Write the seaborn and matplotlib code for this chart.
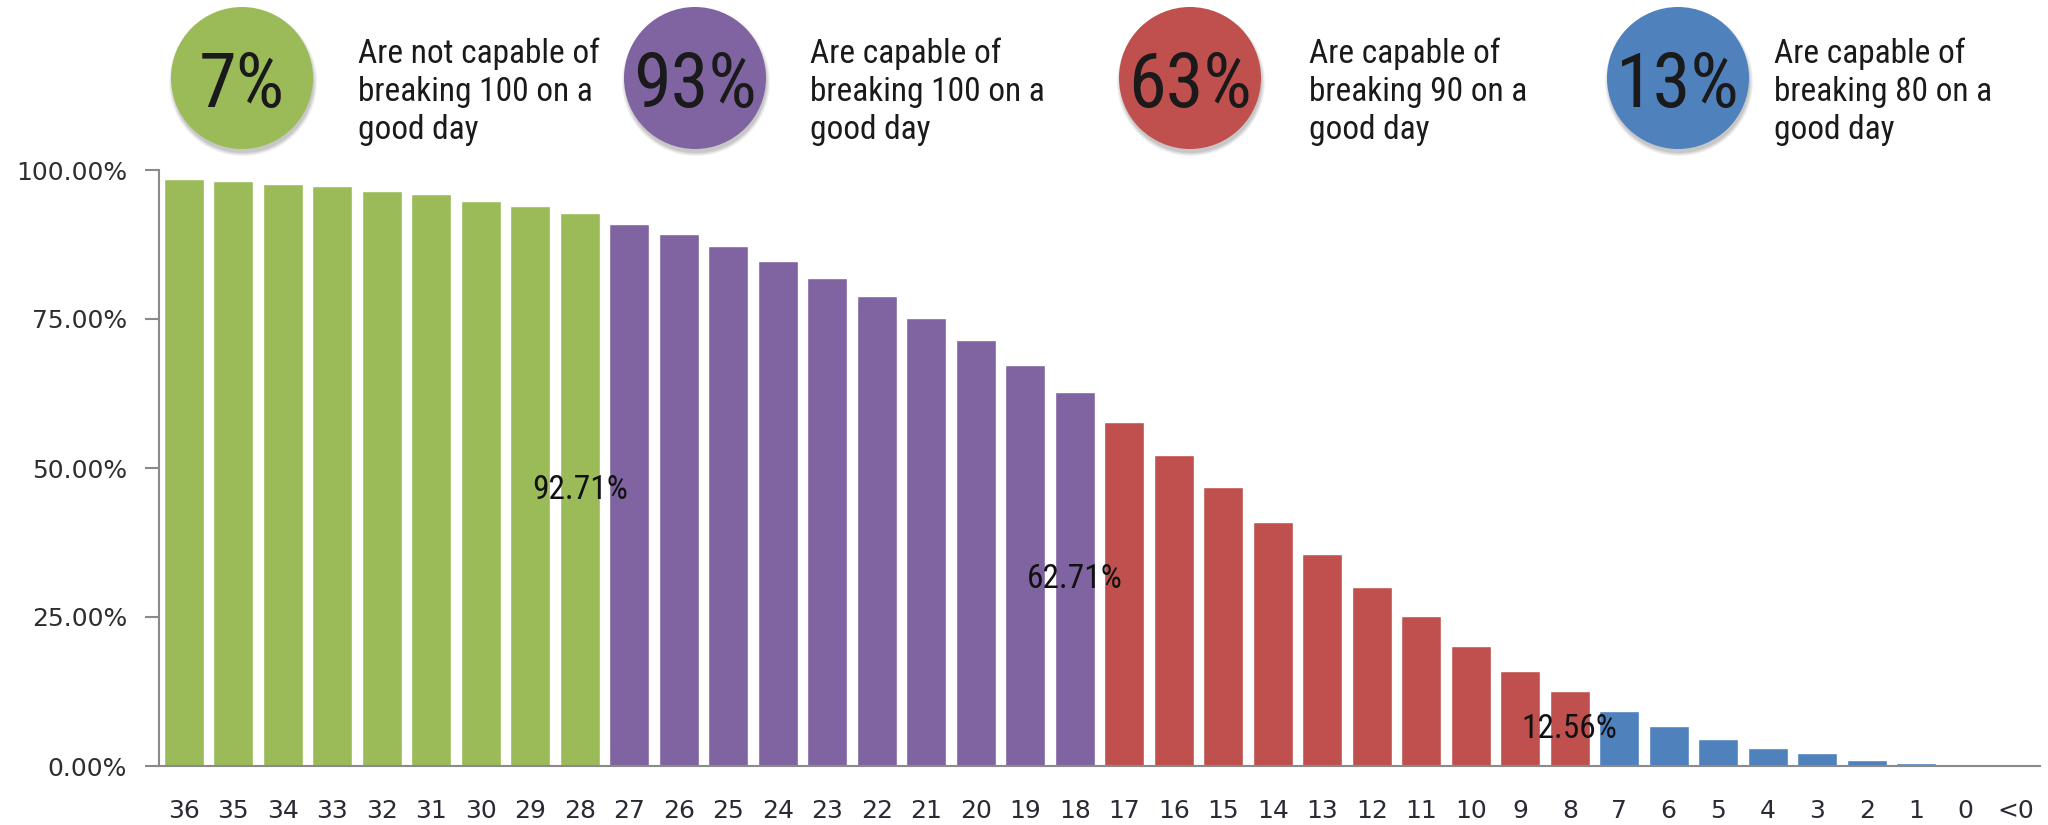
import numpy as np
import pandas as pd
import matplotlib
matplotlib.use("Agg")
import matplotlib.pyplot as plt
from matplotlib import font_manager as fm
from matplotlib.patches import Circle
import seaborn as sns

# Cumulative share of golfers (%) by handicap-style score band
scores = ["36", "35", "34", "33", "32", "31", "30", "29", "28",
          "27", "26", "25", "24", "23", "22", "21", "20", "19", "18",
          "17", "16", "15", "14", "13", "12", "11", "10", "9", "8",
          "7", "6", "5", "4", "3", "2", "1", "0", "<0"]
shares = [98.5, 98.1, 97.7, 97.3, 96.5, 96.0, 94.8, 93.9, 92.71,
          91.0, 89.3, 87.3, 84.8, 81.9, 78.9, 75.2, 71.4, 67.2, 62.71,
          57.7, 52.2, 46.8, 41.0, 35.5, 30.1, 25.1, 20.1, 15.9, 12.56,
          9.2, 6.7, 4.6, 3.0, 2.1, 0.95, 0.5, 0.0, 0.0]
groups = (["over100"] * 9 + ["break100"] * 10 + ["break90"] * 10 + ["break80"] * 9)
group_order = ["over100", "break100", "break90", "break80"]
group_colors = ["#9BBB59", "#8064A2", "#C0504D", "#4F81BD"]

# Bars whose value is printed inside
labelled = ["28", "18", "8"]

header_lines = [
    ["Are not capable of", "breaking 100 on a", "good day"],
    ["Are capable of", "breaking 100 on a", "good day"],
    ["Are capable of", "breaking 90 on a", "good day"],
    ["Are capable of", "breaking 80 on a", "good day"],
]


def pick_font(names):
    for n in names:
        try:
            fm.findfont(fm.FontProperties(family=n), fallback_to_default=False)
            return n
        except Exception:
            continue
    return "DejaVu Sans"


NARROW = pick_font(["Liberation Sans Narrow", "Roboto Condensed",
                    "Open Sans Condensed", "DejaVu Sans Condensed"])

sns.set_theme(style="white")
plt.rcParams["font.family"] = ["DejaVu Sans"]

df = pd.DataFrame({"score": scores, "share": shares, "group": groups})

fig = plt.figure(figsize=(20.48, 8.25), dpi=100, facecolor="white")
ax = fig.add_axes([159 / 2048, 1 - 766 / 825, (2040 - 159) / 2048, (766 - 170) / 825])

sns.barplot(data=df, x="score", y="share", hue="group", order=scores,
            hue_order=group_order, palette=group_colors, dodge=False,
            width=0.81, saturation=1, legend=False, ax=ax)

ax.set_xlim(-0.5, len(scores) - 0.5)
ax.set_ylim(0, 100)
ax.set_yticks([0, 25, 50, 75, 100])
ax.yaxis.set_major_formatter(matplotlib.ticker.FuncFormatter(lambda v, p: f"{v:.2f}%"))
ax.set_xlabel("")
ax.set_ylabel("")
for side in ["top", "right"]:
    ax.spines[side].set_visible(False)
for side in ["left", "bottom"]:
    ax.spines[side].set_color("#8a8a8a")
    ax.spines[side].set_linewidth(1.5)
ax.tick_params(axis="y", length=10, width=1.5, color="#8a8a8a", direction="out",
               labelsize=18, labelcolor="#2e2e2e", pad=13, left=True)
ax.tick_params(axis="x", length=0, labelsize=18, labelcolor="#2a2a35", pad=24)
ax.grid(False)
ax.patch.set_alpha(0)

# value labels centred inside selected bars
for lab in labelled:
    i = scores.index(lab)
    v = shares[i]
    ax.text(i, v / 2, f"{v:.2f}%", ha="center", va="center",
            fontsize=24, color="#111111", family=NARROW, stretch="condensed")

# header: coloured discs with percentages and captions (pixel coordinates)
hax = fig.add_axes([0, 0, 1, 1], zorder=5)
hax.set_xlim(0, 2048)
hax.set_ylim(825, 0)
hax.axis("off")
hax.patch.set_alpha(0)

last_idx = [groups.index(g) + groups.count(g) - 1 for g in group_order]
pct_over = round(100 - shares[last_idx[0]])
header_pcts = [pct_over] + [round(shares[i]) for i in last_idx[:3]]

circle_x = [242, 695, 1190, 1678]
text_x = [358, 810, 1309, 1774]
cy, r = 78, 71
for cx, tx, col, pct, lines in zip(circle_x, text_x, group_colors, header_pcts, header_lines):
    for k, a in enumerate([0.05, 0.05, 0.06, 0.07]):
        hax.add_patch(Circle((cx + 1, cy + 4), r + 3 - k, facecolor="#000000",
                             edgecolor="none", alpha=a))
    hax.add_patch(Circle((cx, cy), r, facecolor=col, edgecolor="none"))
    hax.text(cx, 107, f"{pct}%", ha="center", va="baseline", fontsize=55,
             color="#1a1a1a", family=NARROW, stretch="condensed")
    for j, line in enumerate(lines):
        hax.text(tx, 63 + 38 * j, line, ha="left", va="baseline", fontsize=24,
                 color="#1a1a1a", family=NARROW, stretch="condensed")

fig.savefig("out.png", dpi=100, facecolor="white")
